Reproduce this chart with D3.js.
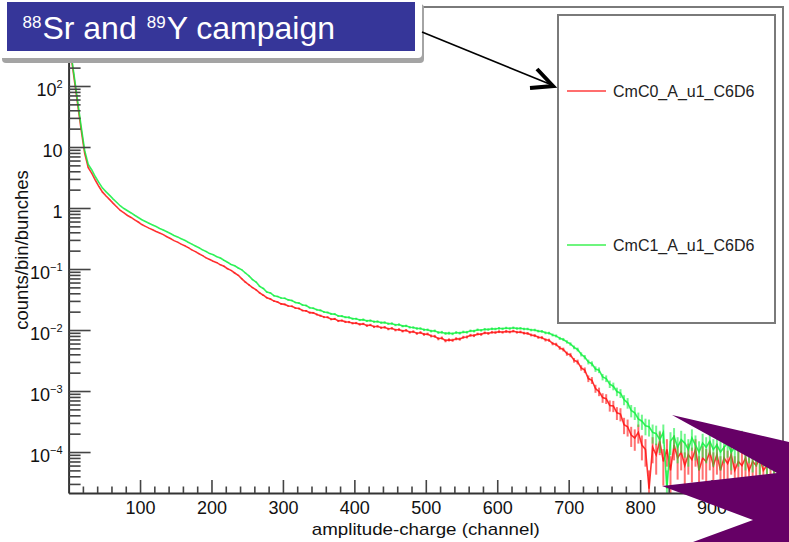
<!DOCTYPE html>
<html><head><meta charset="utf-8">
<script src="https://cdn.jsdelivr.net/npm/d3@7"></script>
<style>
body{margin:0;background:#fff}
svg{display:block}
text{font-family:"Liberation Sans",Arial,Helvetica,sans-serif}
</style>
</head><body><svg id="c" width="789" height="542"></svg>
<script>
// ---------------- data ----------------
const seriesNames = ["CmC0_A_u1_C6D6", "CmC1_A_u1_C6D6"];
const binWidth = 5;              // channels per bin
const channelMax = 1000;
const countUnit = 2.5e-5;        // counts/bin/bunches for one count (sets error bar size)

const cmc0 = [
 380, 140, 52, 19.5, 7.9, 4.6, 3.7, 2.85, 2.25, 1.82,
 1.57, 1.37, 1.19, 1.04, 0.91, 0.83, 0.755, 0.70, 0.64, 0.59,
 0.535, 0.50, 0.468, 0.44, 0.412, 0.388, 0.366, 0.338, 0.316, 0.292,
 0.276, 0.256, 0.241, 0.224, 0.206, 0.193, 0.178, 0.166, 0.152, 0.143,
 0.134, 0.127, 0.117, 0.111, 0.101, 0.095, 0.086, 0.079, 0.069, 0.061,
 0.055, 0.0495, 0.0455, 0.0405, 0.0372, 0.0338, 0.0322, 0.0298, 0.0287, 0.0268,
 0.0263, 0.0248, 0.0245, 0.0229, 0.0225, 0.0209, 0.0206, 0.0193, 0.0191, 0.0180,
 0.0172, 0.0163, 0.0162, 0.0150, 0.0152, 0.0141, 0.0143, 0.0136, 0.0135, 0.0129,
 0.0130, 0.0124, 0.0126, 0.0118, 0.0121, 0.0113, 0.0115, 0.0109, 0.0111, 0.0104,
 0.0107, 0.0100, 0.0102, 0.0096, 0.0099, 0.0092, 0.0094, 0.0088, 0.0091, 0.0085,
 0.0086, 0.0080, 0.0079, 0.0072, 0.0074, 0.0067, 0.0069, 0.0068, 0.0072, 0.0071,
 0.0076, 0.0077, 0.0082, 0.0081, 0.0086, 0.0085, 0.0090, 0.0088, 0.0092, 0.0091,
 0.0094, 0.0092, 0.0095, 0.0093, 0.0096, 0.0092, 0.0093, 0.0089, 0.0088, 0.0083,
 0.0081, 0.0076, 0.0075, 0.0069, 0.0068, 0.0060, 0.0058, 0.0051, 0.0048, 0.0041,
 0.0039, 0.0032, 0.0030, 0.0024, 0.0022, 0.0016, 0.0015, 0.0011, 0.00098, 0.00078,
 0.00075, 0.00058, 0.00057, 0.00044, 0.00042, 0.00028, 0.00026, 0.00019, 0.00017, 0.00021,
 0.00013, 0.00011, 0.000025, 0.00012, 0.00009, 0.00015, 0.00007, 0.00011, 0.00005, 0.00013,
 0.00008, 0.00010, 0.00006, 0.00009, 0.000075, 0.00011, 0.00005, 0.00008, 0.00007, 0.00010,
 0.00006, 0.00009, 0.00005, 0.00008, 0.000065, 0.00009, 0.00005, 0.00007, 0.00006, 0.00008,
 0.00005, 0.00007, 0.00006, 0.00008, 0.00005, 0.00006, 0.00007, 0.00005, 0.00006, 0.00005
];

const cmc1 = [
 400, 155, 58, 22, 8.8, 5.2, 4.2, 3.25, 2.6, 2.12,
 1.84, 1.61, 1.40, 1.23, 1.08, 0.98, 0.90, 0.83, 0.76, 0.70,
 0.642, 0.60, 0.562, 0.528, 0.496, 0.463, 0.437, 0.408, 0.382, 0.354,
 0.336, 0.313, 0.296, 0.274, 0.256, 0.239, 0.223, 0.206, 0.194, 0.179,
 0.171, 0.159, 0.151, 0.139, 0.129, 0.119, 0.113, 0.104, 0.097, 0.086,
 0.077, 0.067, 0.061, 0.052, 0.048, 0.042, 0.0405, 0.0365, 0.0355, 0.0335,
 0.0332, 0.0312, 0.0304, 0.0283, 0.0276, 0.0257, 0.0252, 0.0232, 0.0228, 0.0215,
 0.0210, 0.0198, 0.0194, 0.0184, 0.0182, 0.0170, 0.0169, 0.0162, 0.0161, 0.0153,
 0.0153, 0.0146, 0.0148, 0.0141, 0.0143, 0.0137, 0.0138, 0.0132, 0.0133, 0.0127,
 0.0128, 0.0121, 0.0123, 0.0116, 0.0117, 0.0111, 0.0110, 0.0106, 0.0106, 0.0101,
 0.0101, 0.0096, 0.0097, 0.0091, 0.0092, 0.0088, 0.0089, 0.0087, 0.0091, 0.0089,
 0.0093, 0.0092, 0.0097, 0.0096, 0.0101, 0.0099, 0.0103, 0.0102, 0.0105, 0.0104,
 0.0107, 0.0105, 0.0108, 0.0106, 0.0109, 0.0106, 0.0107, 0.0104, 0.0104, 0.0100,
 0.0100, 0.0096, 0.0095, 0.0090, 0.0089, 0.0083, 0.0080, 0.0073, 0.0070, 0.0064,
 0.0059, 0.0052, 0.0048, 0.0040, 0.0036, 0.0030, 0.0028, 0.0023, 0.0022, 0.0017,
 0.0016, 0.0013, 0.0012, 0.00098, 0.00092, 0.00072, 0.00064, 0.00048, 0.00044, 0.00035,
 0.00032, 0.00027, 0.00026, 0.00021, 0.00020, 0.00016, 0.00021, 0.000025, 0.00015, 0.00018,
 0.00012, 0.00016, 0.00014, 0.00011, 0.00017, 0.00013, 0.00010, 0.00014, 0.00012, 0.00015,
 0.00011, 0.00013, 0.00010, 0.00012, 0.00014, 0.00010, 0.00012, 0.00011, 0.00016, 0.00010,
 0.00012, 0.000095, 0.00011, 0.00009, 0.00011, 0.000085, 0.00010, 0.00009, 0.00010, 0.00008
];

const xMajorTicks = [100, 200, 300, 400, 500, 600, 700, 800, 900];
const yDecades = [-4, -3, -2, -1, 0, 1, 2];   // 10^3 lies behind the title box
const xTitle = "amplitude-charge (channel)";
const yTitle = "counts/bin/bunches";
const titleParts = [["88", true], ["Sr and", false], ["89", true], ["Y campaign", false]];
const seriesColors = ["#ff1010", "#10f040"];
const legendColors = ["#ff6e6e", "#6ef57e"];

// ---------------- chart ----------------
const svg = d3.select("#c");
const X0 = 68.6, X1 = 783, Y0 = 7, Y1 = 493;
const yMin = 2.13e-5, yMax = 1972;
const x = d3.scaleLinear().domain([0, channelMax]).range([X0, X1]);
const y = d3.scaleLog().domain([yMin, yMax]).range([Y1, Y0]);
const binCenters = d3.range(binWidth / 2, channelMax, binWidth);

svg.append("defs").append("clipPath").attr("id", "clip")
  .append("rect").attr("x", X0).attr("y", Y0).attr("width", X1 - X0).attr("height", Y1 - Y0);

// frame (top / right)
svg.append("path").attr("d", `M${X0},${Y0}H${X1}V${Y1}`)
  .attr("fill", "none").attr("stroke", "#7a7a7a").attr("stroke-width", 2);

// data
const plot = svg.append("g").attr("clip-path", "url(#clip)");
const line = d3.line().x((d, i) => x(binCenters[i])).y(d => y(Math.max(d, yMin)));
[cmc0, cmc1].forEach((vals, s) => {
  const g = plot.append("g");
  g.selectAll("line").data(vals).join("line")
    .attr("x1", (d, i) => x(binCenters[i])).attr("x2", (d, i) => x(binCenters[i]))
    .attr("y1", d => y(d + Math.sqrt(d * countUnit)))
    .attr("y2", d => y(Math.max(d - Math.sqrt(d * countUnit), yMin)))
    .attr("stroke", seriesColors[s]).attr("stroke-width", 2).attr("stroke-opacity", 0.6);
  g.append("path").datum(vals).attr("d", line)
    .attr("fill", "none").attr("stroke", seriesColors[s]).attr("stroke-width", 1.6)
    .attr("stroke-opacity", 0.85);
});

// x axis
const tickColor = "#444";
const gx = svg.append("g").attr("transform", `translate(0,${Y1})`);
gx.call(d3.axisBottom(x).tickValues(xMajorTicks).tickSizeInner(-13).tickSizeOuter(0).tickPadding(8));
const xMinor = d3.range(20, channelMax, 20).filter(v => v % 100 !== 0);
const gxm = svg.append("g").attr("transform", `translate(0,${Y1})`);
gxm.call(d3.axisBottom(x).tickValues(xMinor).tickSizeInner(-6.5).tickSizeOuter(0).tickFormat(""));
gxm.select(".domain").remove();

// y axis
const yMajor = yDecades.map(e => Math.pow(10, e)).filter(v => v >= yMin && v <= yMax);
const yMinorVals = [];
for (let e = -5; e <= 3; e++) for (let k = 2; k <= 9; k++) {
  const v = k * Math.pow(10, e);
  if (v > yMin && v < yMax) yMinorVals.push(v);
}
const gy = svg.append("g").attr("transform", `translate(${X0},0)`);
gy.call(d3.axisLeft(y).tickValues(yMajor).tickSizeInner(-22).tickSizeOuter(0).tickPadding(6));
const gym = svg.append("g").attr("transform", `translate(${X0},0)`);
gym.call(d3.axisLeft(y).tickValues(yMinorVals).tickSizeInner(-12).tickSizeOuter(0).tickFormat(""));
gym.select(".domain").remove();

[gx, gxm, gy, gym].forEach(g => {
  g.selectAll(".tick line").attr("stroke", tickColor).attr("stroke-width", 1.6);
  g.selectAll(".domain").attr("stroke", "#333").attr("stroke-width", 2);
});
gx.selectAll(".tick text").attr("font-size", 18).attr("fill", "#111")
  .attr("font-family", '"Liberation Sans",Arial,sans-serif');
gy.selectAll(".tick text").attr("font-size", 18).attr("fill", "#111").attr("dy", "0.53em")
  .attr("font-family", '"Liberation Sans",Arial,sans-serif')
  .each(function (d) {
    const e = Math.round(Math.log10(d));
    const t = d3.select(this).text(null);
    if (e === 0) t.text("1");
    else if (e === 1) t.text("10");
    else {
      t.append("tspan").text("10");
      t.append("tspan").attr("dy", -8).attr("font-size", 11)
        .text(e < 0 ? "\u2212" + (-e) : String(e));
    }
  });

// axis titles
svg.append("text").attr("x", (X0 + X1) / 2).attr("y", 535).attr("text-anchor", "middle")
  .attr("font-size", 17).attr("textLength", 228).attr("lengthAdjust", "spacingAndGlyphs")
  .attr("fill", "#111").text(xTitle);
svg.append("text").attr("transform", `translate(28,${(Y0 + Y1) / 2}) rotate(-90)`)
  .attr("text-anchor", "middle").attr("font-size", 18.5).attr("fill", "#111").text(yTitle);

// legend
const lg = svg.append("g");
lg.append("rect").attr("x", 558).attr("y", 15).attr("width", 217).attr("height", 308)
  .attr("fill", "#fff").attr("stroke", "#7a7a7a").attr("stroke-width", 2);
const legendRows = [91, 245];
seriesNames.forEach((n, i) => {
  lg.append("line").attr("x1", 567).attr("x2", 606).attr("y1", legendRows[i]).attr("y2", legendRows[i])
    .attr("stroke", legendColors[i]).attr("stroke-width", 2);
  lg.append("text").attr("x", 613).attr("y", legendRows[i] + 6).attr("font-size", 16)
    .attr("fill", "#222").text(n);
});

// title box
const tg = svg.append("g");
tg.append("rect").attr("x", 2).attr("y", 4).attr("width", 422).attr("height", 59).attr("rx", 4)
  .attr("fill", "#a4a4a4");
tg.append("rect").attr("x", -6).attr("y", -6).attr("width", 428).attr("height", 64).attr("rx", 4)
  .attr("fill", "#fff");
tg.append("rect").attr("x", 7).attr("y", 2).attr("width", 408).attr("height", 49).attr("fill", "#363699");
let tx = 22.5;
titleParts.forEach(([str, sup]) => {
  const t = tg.append("text").attr("x", tx).attr("y", sup ? 28 : 39)
    .attr("font-size", sup ? 17 : 32).attr("fill", "#fff").text(str);
  tx += t.node().getComputedTextLength() + (sup ? 1 : 10);
});

// arrow
svg.append("line").attr("x1", 422).attr("y1", 32).attr("x2", 552).attr("y2", 85)
  .attr("stroke", "#000").attr("stroke-width", 1.6);
svg.append("path").attr("d", "M537,69L553,86L530,88").attr("fill", "none")
  .attr("stroke", "#000").attr("stroke-width", 4).attr("stroke-linejoin", "miter");

// purple overlay shape
const purpleShape = [[672, 415], [789, 442], [789, 542], [693, 542], [753, 520], [662, 486], [777, 473]];
svg.append("polygon").attr("points", purpleShape.map(p => p.join(",")).join(" "))
  .attr("fill", "#660066");
</script>
</body></html>
